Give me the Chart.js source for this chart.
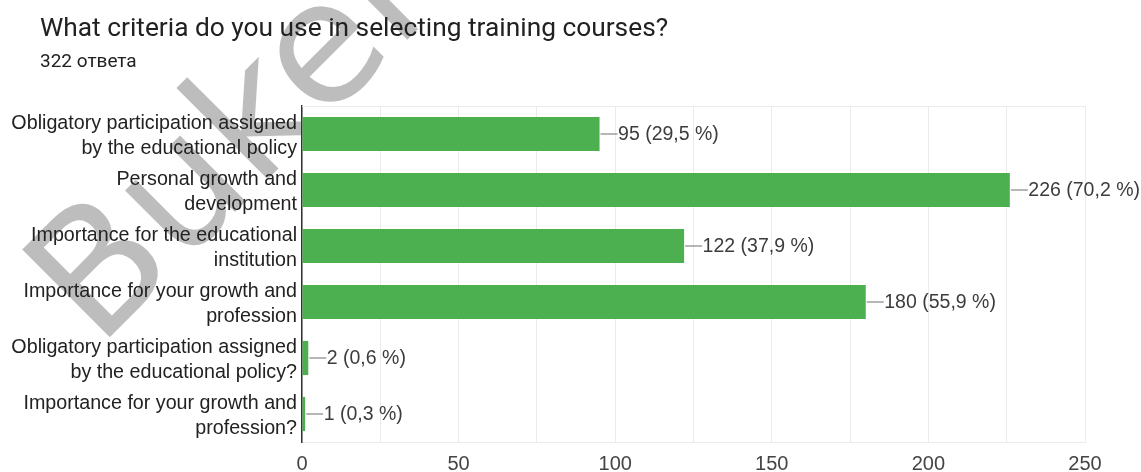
<!DOCTYPE html>
<html>
<head>
<meta charset="utf-8">
<script src="https://cdn.jsdelivr.net/npm/chart.js@4.4.1/dist/chart.umd.min.js"></script>
<style>
  html, body { margin: 0; padding: 0; background: #fff; }
  #wrap { width: 1141px; height: 472px; position: relative; }
</style>
</head>
<body>
<div id="wrap"><canvas id="criteriaChart"></canvas></div>
<script>
const chartTitle = 'What criteria do you use in selecting training courses?';
const chartSubtitle = '322 ответа';
const categories = [
    ['Obligatory participation assigned', 'by the educational policy'],
    ['Personal growth and', 'development'],
    ['Importance for the educational', 'institution'],
    ['Importance for your growth and', 'profession'],
    ['Obligatory participation assigned', 'by the educational policy?'],
    ['Importance for your growth and', 'profession?']
];
const counts = [95, 226, 122, 180, 2, 1];
const percents = ['29,5', '70,2', '37,9', '55,9', '0,6', '0,3'];
const xTicks = [0, 50, 100, 150, 200, 250];
const watermarkText = 'Bukel';

const labelFont = '"Liberation Sans", Arial, sans-serif';

// watermark + title, drawn under the axes text
const backdropPlugin = {
    id: 'backdrop',
    beforeDraw(chart) {
        const ctx = chart.ctx;
        ctx.save();
        ctx.translate(98, 349);
        ctx.rotate(-45 * Math.PI / 180);
        ctx.font = '170px "DejaVu Sans", sans-serif';
        ctx.fillStyle = 'rgba(0,0,0,0.26)';
        ctx.textBaseline = 'alphabetic';
        ctx.fillText(watermarkText, 0, 0);
        ctx.restore();

        ctx.save();
        ctx.fillStyle = '#212121';
        ctx.textBaseline = 'alphabetic';
        ctx.font = '26.3px Roboto, sans-serif';
        ctx.fillText(chartTitle, 40, 36);
        ctx.font = '19px Roboto, sans-serif';
        ctx.fillText(chartSubtitle, 40, 67);
        ctx.restore();
    },
    beforeDatasetsDraw(chart) {
        const a = chart.chartArea;
        const ctx = chart.ctx;
        ctx.save();
        ctx.strokeStyle = '#ebebeb';
        ctx.lineWidth = 1;
        ctx.beginPath();
        ctx.moveTo(a.left, a.top + 0.5);
        ctx.lineTo(a.right, a.top + 0.5);
        ctx.stroke();
        ctx.restore();
    }
};

// leader line + "n (p %)" after each bar
const valueLabels = {
    id: 'valueLabels',
    afterDatasetsDraw(chart) {
        const ctx = chart.ctx;
        const meta = chart.getDatasetMeta(0);
        ctx.save();
        ctx.font = '19.5px ' + labelFont;
        ctx.textBaseline = 'middle';
        meta.data.forEach((bar, i) => {
            const x = bar.x;
            const y = bar.y;
            ctx.strokeStyle = '#9e9e9e';
            ctx.lineWidth = 1.5;
            ctx.beginPath();
            ctx.moveTo(x + 1, y);
            ctx.lineTo(x + 18, y);
            ctx.stroke();
            ctx.fillStyle = '#3c3c3c';
            ctx.fillText(counts[i] + ' (' + percents[i] + ' %)', x + 18.5, y + 1);
        });
        ctx.restore();
    }
};

new Chart(document.getElementById('criteriaChart'), {
    type: 'bar',
    data: {
        labels: categories,
        datasets: [{
            data: counts,
            backgroundColor: '#4caf50',
            borderWidth: 0,
            categoryPercentage: 1,
            barPercentage: 0.61
        }]
    },
    options: {
        indexAxis: 'y',
        responsive: true,
        maintainAspectRatio: false,
        animation: false,
        layout: { padding: { left: 0, right: 56, top: 106, bottom: 0 } },
        plugins: {
            legend: { display: false },
            tooltip: { enabled: false }
        },
        scales: {
            x: {
                min: 0,
                max: 250,
                ticks: {
                    stepSize: 25,
                    autoSkip: false,
                    maxRotation: 0,
                    padding: 10,
                    color: '#444',
                    font: { family: labelFont, size: 20 },
                    callback: (v) => xTicks.includes(v) ? String(v) : ''
                },
                grid: {
                    color: '#ebebeb',
                    lineWidth: 1,
                    drawTicks: false
                },
                border: { color: '#ebebeb', width: 1 },
                afterFit(scale) { scale.height = 30; }
            },
            y: {
                ticks: {
                    padding: 5,
                    labelOffset: 2,
                    color: '#222',
                    autoSkip: false,
                    font: { family: labelFont, size: 19.7, lineHeight: 1.24 }
                },
                grid: { display: false, drawTicks: false },
                border: { color: '#333', width: 1.5 },
                afterFit(scale) { scale.width = 302; }
            }
        }
    },
    plugins: [backdropPlugin, valueLabels]
});
</script>
</body>
</html>
